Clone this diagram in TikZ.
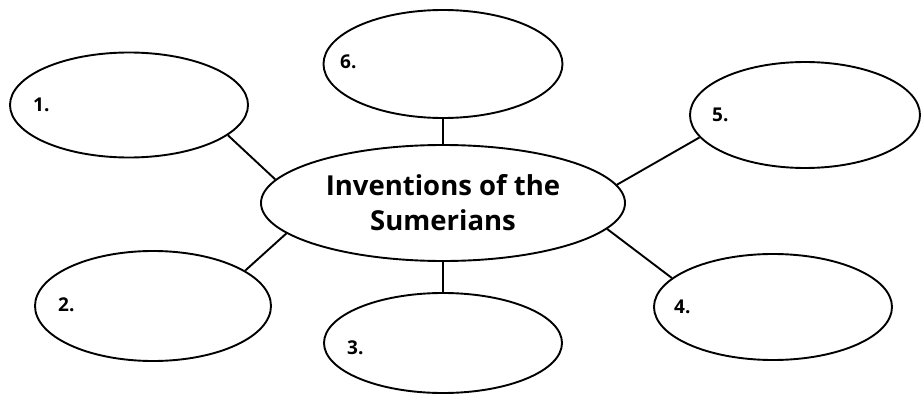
\documentclass[tikz,border=0pt]{standalone}
\usepackage{fontspec}
\setmainfont{Open Sans}
\usetikzlibrary{shapes.geometric,positioning}

\begin{document}
\begin{tikzpicture}[x=1pt,y=-1pt,
    bubble/.style={ellipse, draw, line width=1.9pt, inner sep=0pt},
    num/.style={anchor=west, inner sep=0pt, font=\fontsize{19}{19}\selectfont\bfseries},
    spoke/.style={line width=1.9pt}]
      \useasboundingbox (0,0) rectangle (924,396);

      % Main topic
      \node[bubble, minimum width=364pt, minimum height=116pt, align=center,
            font=\fontsize{27.5}{35}\selectfont\bfseries] (topic) at (443,203)
            {Inventions of the\\Sumerians};

      % Outer bubbles
      \node[bubble, minimum width=238pt, minimum height=105pt] (e1) at (129,105) {};
      \node[bubble, minimum width=236pt, minimum height=110pt] (e2) at (153,306) {};
      \node[bubble, minimum width=238pt, minimum height=100pt] (e3) at (443,343) {};
      \node[bubble, minimum width=238pt, minimum height=106pt] (e4) at (773,307) {};
      \node[bubble, minimum width=230pt, minimum height=106pt] (e5) at (805,115) {};
      \node[bubble, minimum width=239pt, minimum height=108pt] (e6) at (443,64) {};

      % Numbers
      \node[num] (n1) at (33,105) {1.};
      \node[num] (n2) at (58,305) {2.};
      \node[num] (n3) at (347,348) {3.};
      \node[num] (n4) at (674,307) {4.};
      \node[num] (n5) at (712,115) {5.};
      \node[num] (n6) at (340,62) {6.};

      % Spokes
      \draw[spoke] (e1.-17) -- (topic.172);
      \draw[spoke] (e2.21) -- (topic.-169);
      \draw[spoke] (topic) -- (e3);
      \draw[spoke] (e4.164) -- (topic.-9);
      \draw[spoke] (e5.-168) -- (topic.6);
      \draw[spoke] (e6) -- (topic);
    \end{tikzpicture}
\end{document}
